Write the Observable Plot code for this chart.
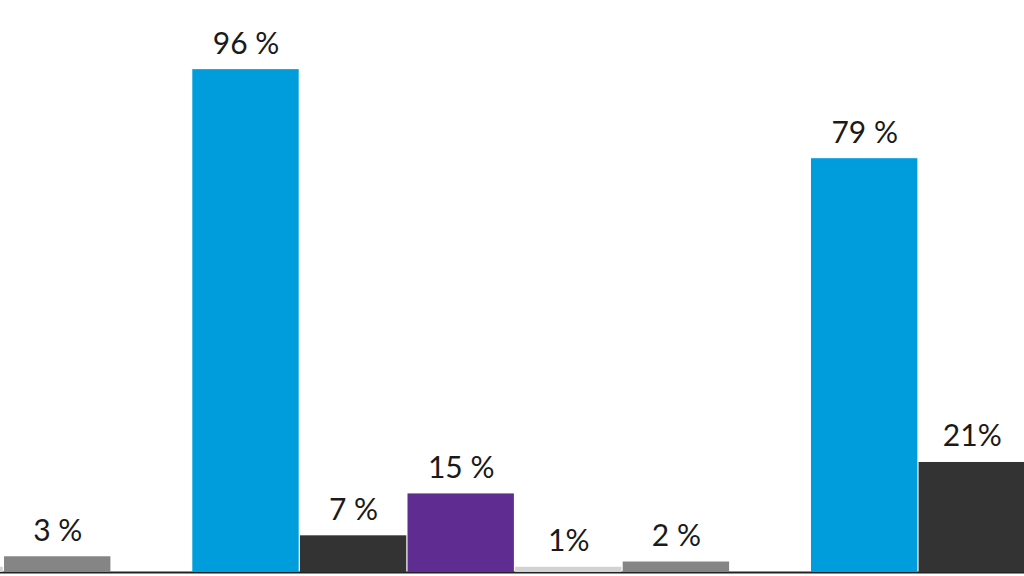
<!DOCTYPE html>
<html>
<head>
<meta charset="utf-8">
<script src="https://cdn.jsdelivr.net/npm/d3@7"></script>
<script src="https://cdn.jsdelivr.net/npm/@observablehq/plot@0.6"></script>
<style>
  html, body { margin: 0; padding: 0; background: #fff; overflow: hidden; }
  #wrap { position: relative; width: 1024px; height: 576px; overflow: hidden; background: #fff; }
</style>
</head>
<body>
<div id="wrap"></div>
<script>
// Groups of bars (the reference is a cropped view: only part of the first and last group is visible)
const groups = ["A", "A", "B", "B", "B", "B", "B", "C", "C"];
const series = ["light", "gray", "blue", "dark", "purple", "light", "gray", "blue", "dark"];
const values = [1, 3, 96, 7, 15, 1, 2, 79, 21];
const labels = ["", "3 %", "96 %", "7 %", "15 %", "1%", "2 %", "79 %", "21%"];

const groupOrder = ["A", "B", "C"];
const seriesOrder = ["blue", "dark", "purple", "light", "gray"];
const seriesColors = ["#009ddd", "#333333", "#5f2d91", "#d2d2d2", "#858585"];

const data = values.map((v, i) => ({group: groups[i], series: series[i], value: v, label: labels[i]}));

const chart = Plot.plot({
  width: 1775.4,
  height: 576,
  marginTop: 0,
  marginBottom: 4,
  marginLeft: 0,
  marginRight: 0,
  style: {position: "absolute", left: "-426.7px", top: "0px", maxWidth: "none", background: "transparent", fontFamily: "Lato, sans-serif", overflow: "visible"},
  fx: {domain: groupOrder, paddingInner: 0.1304, paddingOuter: 0, round: false, axis: null, label: null},
  x: {domain: seriesOrder, padding: 0, round: false, axis: null, label: null},
  y: {domain: [0, 109.2], axis: null, label: null},
  color: {domain: seriesOrder, range: seriesColors},
  marks: [
    Plot.frame({anchor: "bottom", facet: "super", stroke: "#222222", strokeWidth: 2}),
    Plot.barY(data, {fx: "group", x: "series", y: "value", fill: "series", insetLeft: 0.6, insetRight: 0.6}),
    Plot.text(data.filter(d => d.label !== ""), {fx: "group", x: "series", y: "value", text: "label", dy: -16, lineAnchor: "bottom", fontSize: 30, fontWeight: 400, fill: "#1a1a1a"})
  ]
});
document.getElementById("wrap").appendChild(chart);
</script>
</body>
</html>
